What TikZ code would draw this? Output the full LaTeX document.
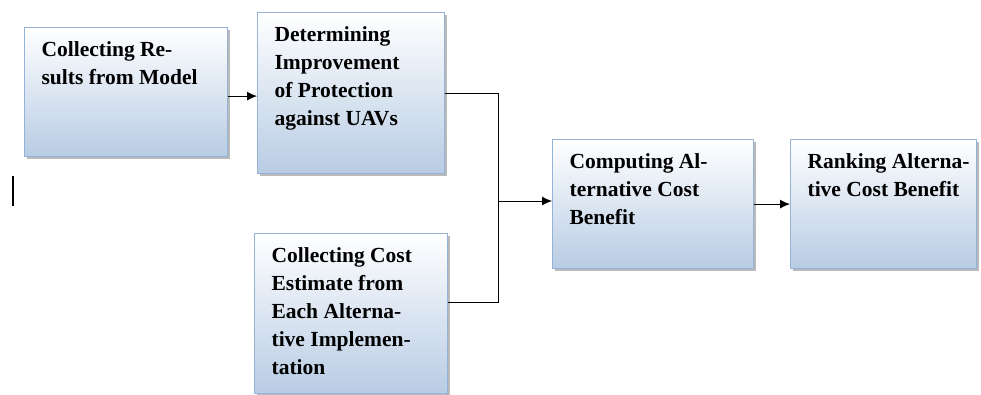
\documentclass[tikz,border=0pt]{standalone}
\usepackage{fontspec}
\setmainfont{Liberation Serif}
\usetikzlibrary{arrows.meta}
\usetikzlibrary{shadows}
\usetikzlibrary{calc}

\definecolor{boxedge}{RGB}{149,179,215}
\definecolor{boxfill}{RGB}{184,204,228}

\tikzset{
  procbox/.style={rectangle, draw=boxedge, line width=1.2pt, anchor=north west,
    top color=white, bottom color=boxfill, inner sep=0pt,
    drop shadow={shadow xshift=2.5pt, shadow yshift=-2.5pt, fill=black!45, opacity=0.6},
    font=\fontsize{21.5}{28}\selectfont\bfseries},
  flow/.style={line width=0.9pt, -{Latex[length=10pt,width=9pt]}},
}

% text of a box: width, height, lines
\newcommand{\boxtext}[3]{\hspace*{17pt}\parbox[t][#2][t]{#1}{\vspace*{14pt}\raggedright #3}}

\begin{document}
\begin{tikzpicture}[x=1pt,y=-1pt]
        \useasboundingbox (0,0) rectangle (981,394);

        \node[procbox] (collect) at (24,27)
            {\boxtext{186pt}{129pt}{Collecting Re-\\sults from Model}};
        \node[procbox] (improve) at (257,12)
            {\boxtext{170pt}{161pt}{Determining\\Improvement\\of Protection\\against UAVs}};
        \node[procbox] (estimate) at (254,233)
            {\boxtext{176pt}{160pt}{Collecting Cost\\Estimate from\\Each Alterna-\\tive Implemen-\\tation}};
        \node[procbox] (compute) at (552,139)
            {\boxtext{184pt}{129pt}{Computing Al-\\ternative Cost\\Benefit}};
        \node[procbox] (rank) at (790,139)
            {\boxtext{169pt}{129pt}{Ranking Alterna-\\tive Cost Benefit}};

        \coordinate (join) at (498,201);

        \draw[flow] ($(collect.east)+(0,4)$) -- (improve.west |- {$(collect.east)+(0,4)$});
        \draw[line width=0.9pt] (improve.east) -| (join);
        \draw[line width=0.9pt] ($(estimate.east)+(0,-11)$) -| (join);
        \draw[flow] (join) -- (compute.west |- join);
        \draw[flow] (compute.east) -- (rank.west);

        % stray cursor mark
        \draw[line width=2pt] (13,176) -- (13,206);
\end{tikzpicture}
\end{document}
